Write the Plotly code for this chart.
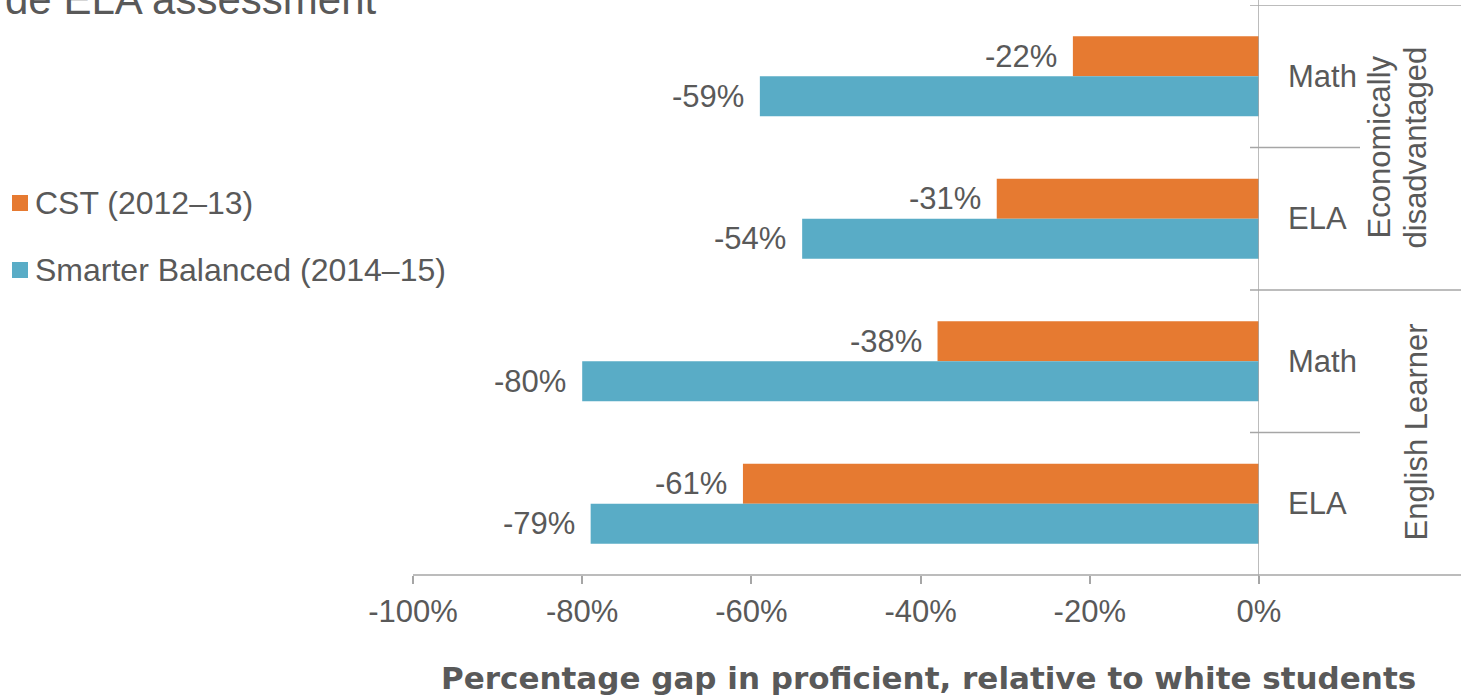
import plotly.graph_objects as go

# ---- data ----
categories = ["Econ_Math", "Econ_ELA", "EL_Math", "EL_ELA"]
subject_labels = ["Math", "ELA", "Math", "ELA"]
cst_values = [-22, -31, -38, -61]          # CST (2012–13)
sb_values = [-59, -54, -80, -79]           # Smarter Balanced (2014–15)
series_names = ["CST (2012–13)", "Smarter Balanced (2014–15)"]
tick_values = [-100, -80, -60, -40, -20, 0]
tick_labels = ["-100%", "-80%", "-60%", "-40%", "-20%", "0%"]
group_labels = [("Economically", "disadvantaged"), ("English Learner",)]

ORANGE = "#E67A31"
BLUE = "#59ACC6"
TXT = "#595959"
LINE = "#A6A6A6"
FONT = "Arial, Liberation Sans, sans-serif"

W, H = 1461, 699
L, R, T, B = 413, 202, 5, 124
PW, PH = W - L - R, H - T - B


def px_x(p):
    return (p - L) / PW


def px_y(p):
    return (T + PH - p) / PH


fig = go.Figure()
fig.add_bar(y=categories, x=cst_values, orientation="h", name=series_names[0],
            marker=dict(color=ORANGE, line=dict(width=0)), showlegend=False)
fig.add_bar(y=categories, x=sb_values, orientation="h", name=series_names[1],
            marker=dict(color=BLUE, line=dict(width=0)), showlegend=False)

annotations = []
shapes = []

# data labels
for vals, ys in ((cst_values, 20), (sb_values, -20)):
    for c, v in zip(categories, vals):
        annotations.append(dict(x=v, y=c, xref="x", yref="y", text=f"{v}%",
                                showarrow=False, xanchor="right", yanchor="middle",
                                xshift=-14, yshift=ys,
                                font=dict(family=FONT, size=31, color=TXT)))

# subject labels
for c, lab in zip(categories, subject_labels):
    annotations.append(dict(x=px_x(1286), y=c, xref="paper", yref="y", text=lab,
                            showarrow=False, xanchor="left", yanchor="middle",
                            font=dict(family=FONT, size=31, color=TXT)))

# group labels (rotated)
annotations.append(dict(x=px_x(1379), y=0.5, xref="paper", yref="y", text=group_labels[0][0],
                        showarrow=False, textangle=-90, xanchor="center", yanchor="middle",
                        font=dict(family=FONT, size=31, color=TXT)))
annotations.append(dict(x=px_x(1415), y=0.5, xref="paper", yref="y", text=group_labels[0][1],
                        showarrow=False, textangle=-90, xanchor="center", yanchor="middle",
                        font=dict(family=FONT, size=31, color=TXT)))
annotations.append(dict(x=px_x(1416), y=2.5, xref="paper", yref="y", text=group_labels[1][0],
                        showarrow=False, textangle=-90, xanchor="center", yanchor="middle",
                        font=dict(family=FONT, size=31, color=TXT)))

# legend (custom)
for name, col, yc in ((series_names[0], ORANGE, 203), (series_names[1], BLUE, 270)):
    shapes.append(dict(type="rect", xref="paper", yref="paper",
                       x0=px_x(12), x1=px_x(28), y0=px_y(yc - 8), y1=px_y(yc + 8),
                       fillcolor=col, line=dict(width=0)))
    annotations.append(dict(x=px_x(33), y=px_y(yc), xref="paper", yref="paper", text=name,
                            showarrow=False, xanchor="left", yanchor="middle",
                            font=dict(family=FONT, size=32, color=TXT)))

# clipped title remnant at top
annotations.append(dict(x=px_x(379), y=px_y(25), xref="paper", yref="paper",
                        text="de ELA assessment", showarrow=False,
                        xanchor="right", yanchor="bottom",
                        font=dict(family=FONT, size=42, color=TXT)))

# x-axis title
annotations.append(dict(x=px_x(928), y=px_y(678), xref="paper", yref="paper",
                        text="<b>Percentage gap in proficient, relative to white students</b>",
                        showarrow=False, xanchor="center", yanchor="middle",
                        font=dict(family="DejaVu Sans, sans-serif", size=31, color=TXT)))

# axis lines and category panel
shapes.append(dict(type="line", xref="paper", yref="paper", x0=0, x1=px_x(1461),
                   y0=0, y1=0, line=dict(color=LINE, width=1.5)))
shapes.append(dict(type="line", xref="x", yref="paper", x0=0, x1=0,
                   y0=px_y(0), y1=px_y(583), line=dict(color=LINE, width=1.5)))
for yb, xr in ((-0.5, 1461), (0.5, 1360), (1.5, 1461), (2.5, 1360)):
    shapes.append(dict(type="line", xref="paper", yref="y", x0=px_x(1250), x1=px_x(xr),
                       y0=yb, y1=yb, line=dict(color=LINE, width=1.5)))

fig.update_layout(
    width=W, height=H,
    margin=dict(l=L, r=R, t=T, b=B, pad=0),
    paper_bgcolor="white", plot_bgcolor="white",
    barmode="group", bargap=0.439, bargroupgap=0,
    showlegend=False,
    font=dict(family=FONT, color=TXT),
    annotations=annotations, shapes=shapes,
    xaxis=dict(range=[-100, 0], tickvals=tick_values, ticktext=tick_labels,
               ticks="outside", ticklen=8, tickcolor=LINE, tickwidth=1.5,
               showgrid=False, zeroline=False, showline=False,
               tickfont=dict(family=FONT, size=31, color=TXT),
               ticklabelstandoff=1),
    yaxis=dict(type="category", categoryarray=categories, categoryorder="array",
               range=[3.5, -0.5], showticklabels=False, showgrid=False,
               zeroline=False, showline=False, ticks=""),
)

fig.write_html("out.html", config={"displayModeBar": False},
               post_script="document.body.style.margin='0';document.body.style.overflow='hidden';")
